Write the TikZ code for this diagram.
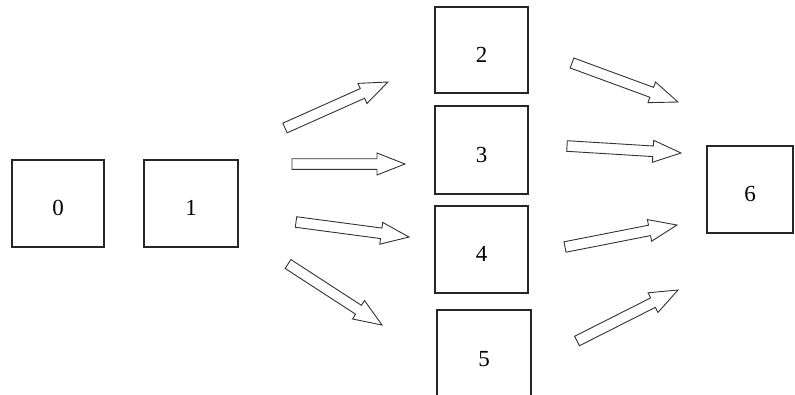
\documentclass[tikz,border=0pt]{standalone}
\usepackage{fontspec}
\setmainfont{Liberation Serif}
\usetikzlibrary{calc}
\tikzset{
  box/.style={draw=black!85, line width=1.1pt, fill=white, minimum width=93pt, minimum height=87pt,
    inner sep=0pt, text height=24pt, text depth=0pt, font=\fontsize{23}{23}\selectfont},
  barrow/.style={draw=black!80, line width=0.9pt, line join=miter, fill=white}
}
\newcommand{\blockarrow}[2]{%
  \draw[barrow] let \p1=(#1), \p2=($(#2)-(#1)$), \n1={atan2(\y2,\x2)}, \n2={veclen(\x2,\y2)} in
   {[shift={(\p1)}, rotate=\n1]
    (0pt,-5.3pt) -- ({\n2*1pt-28pt},-5.3pt) -- ({\n2*1pt-28pt},-11pt) -- ({\n2*1pt},0pt)
    -- ({\n2*1pt-28pt},11pt) -- ({\n2*1pt-28pt},5.3pt) -- (0pt,5.3pt) -- cycle};}
\begin{document}
\begin{tikzpicture}[x=1pt,y=-1pt]
\useasboundingbox (0,0) rectangle (795,394);
\clip (0,0) rectangle (795,394);
\node[box, minimum width=92pt] (b0) at (58,203.5) {0};
\node[box, minimum width=94pt] (b1) at (191,203.5) {1};
\node[box, minimum height=86pt] (b2) at (481.5,50) {2};
\node[box, minimum height=88pt] (b3) at (481.5,150) {3};
\node[box] (b4) at (481.5,249.5) {4};
\node[box, minimum width=94pt, minimum height=88pt] (b5) at (484,354) {5};
\node[box, minimum width=86pt] (b6) at (750,189.5) {6};
% arrow end points
\coordinate (t12) at (285,128); \coordinate (h12) at (388,82);
\coordinate (t13) at (292,164); \coordinate (h13) at (405,164);
\coordinate (t14) at (296,222); \coordinate (h14) at (409,237);
\coordinate (t15) at (288,264); \coordinate (h15) at (382,325);
\coordinate (t26) at (572,63);  \coordinate (h26) at (678,102);
\coordinate (t36) at (567,146); \coordinate (h36) at (681,153);
\coordinate (t46) at (565,247); \coordinate (h46) at (677,225);
\coordinate (t56) at (577,341); \coordinate (h56) at (678,290);
\blockarrow{t12}{h12}
\blockarrow{t13}{h13}
\blockarrow{t14}{h14}
\blockarrow{t15}{h15}
\blockarrow{t26}{h26}
\blockarrow{t36}{h36}
\blockarrow{t46}{h46}
\blockarrow{t56}{h56}
\end{tikzpicture}
\end{document}
